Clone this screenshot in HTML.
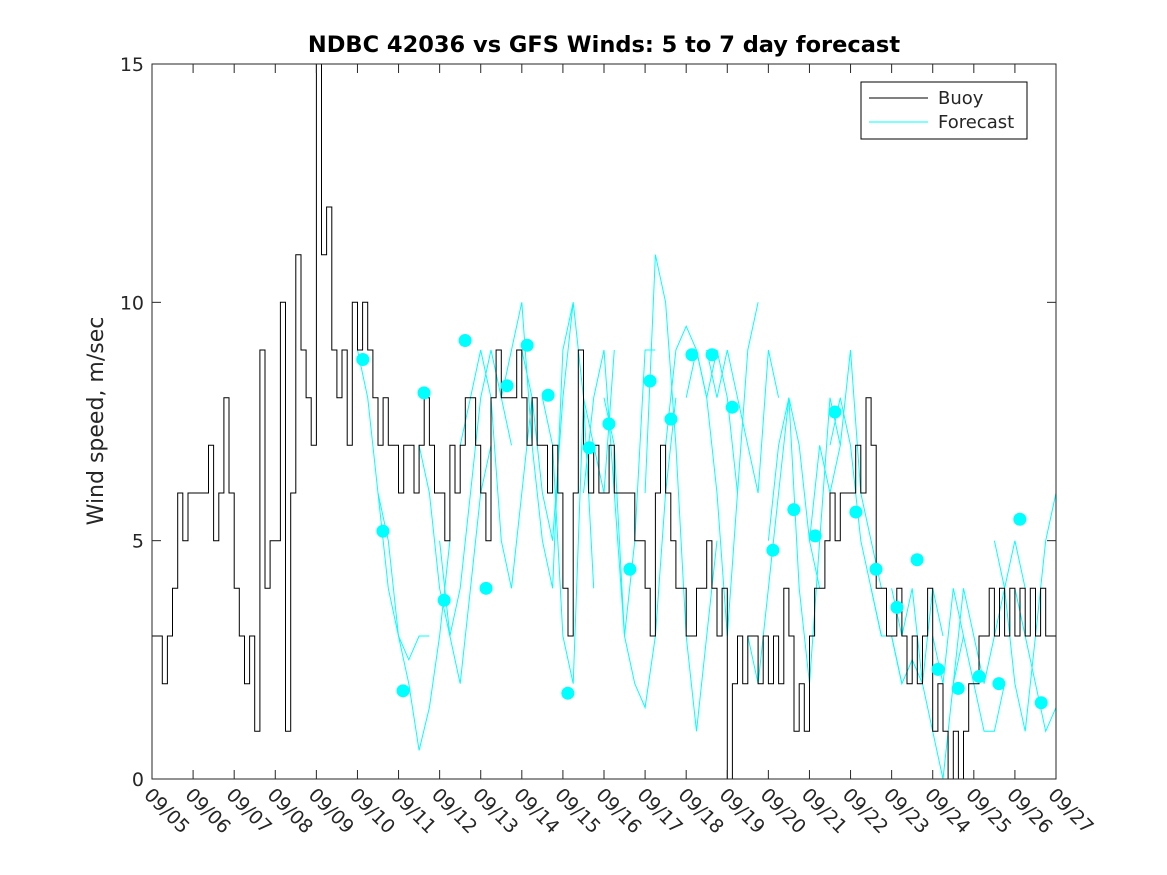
<!DOCTYPE html>
<html><head><meta charset="utf-8"><style>
body{margin:0;background:#fff;}
svg{display:block;font-family:"DejaVu Sans","Liberation Sans",sans-serif;}
</style></head><body>
<svg id="chart" width="1167" height="875" xmlns="http://www.w3.org/2000/svg">
<rect width="1167" height="875" fill="#fff"/>
<text x="604" y="52" text-anchor="middle" font-size="22.5" font-weight="bold">NDBC 42036 vs GFS Winds: 5 to 7 day forecast</text>
<text transform="translate(103,421) rotate(-90)" text-anchor="middle" font-size="22" fill="#262626">Wind speed, m/sec</text>
<defs><clipPath id="plotclip"><rect x="152" y="64" width="904" height="715"/></clipPath></defs>
<g id="series" clip-path="url(#plotclip)"></g>
<g id="axes"></g>
<g>
<rect x="861" y="82" width="166" height="57" fill="#fff" stroke="#000" stroke-width="1"/>
<line x1="869" y1="98" x2="928" y2="98" stroke="#000" stroke-width="1"/>
<text x="938" y="104" font-size="18" fill="#262626">Buoy</text>
<line x1="869" y1="122" x2="928" y2="122" stroke="#00ffff" stroke-width="1"/>
<text x="938" y="128" font-size="18" fill="#262626">Forecast</text>
</g>
</svg>
<script>
const xTickLabels=["09/05","09/06","09/07","09/08","09/09","09/10","09/11","09/12","09/13","09/14","09/15","09/16","09/17","09/18","09/19","09/20","09/21","09/22","09/23","09/24","09/25","09/26","09/27"];
const yTicks=[0,5,10,15];
const buoyStepHours=3;
const buoyValues=[
3,3,2,3,4,6,5,6, 6,6,6,7,5,6,8,6, 4,3,2,3,1,9,4,5, 5,10,1,6,11,9,8,7,
15,11,12,9,8,9,7,10, 9,10,9,8,7,8,7,7, 6,7,7,6,7,8,7,6, 6,5,7,6,7,8,8,7,
6,5,8,9,8,8,8,9, 8,7,8,7,7,6,7,6, 4,3,6,9,7,6,7,6, 6,7,6,6,6,6,5,5,
4,3,6,7,6,5,4,4, 3,3,4,4,5,4,3,4, 0,2,3,2,3,3,2,3, 2,3,2,4,3,1,2,1,
3,4,4,5,6,5,6,6, 6,7,6,8,7,4,4,3, 3,4,3,2,3,2,3,4, 1,2,1,0,1,0,1,2,
2,3,3,4,3,4,3,4, 3,4,3,4,3,4,3,3];
const forecastStarts=[5.0,5.5,6.5,7.0,7.5,8.5,9.0,9.5,10.5,11.0,12.0,12.5,13.0,13.5,14.5,15.0,16.0,16.5,17.5,18.0,19.0,19.5,20.5,21.0];
const forecastValues=[
[9,8,6,4,3,2.5,3,3],[6,5,3,2,0.6,1.5,3,5],[7,6,4,3,2,4,6,7],[5,3,4,6,8,9,8,7],
[7,8,9,8,5,4,6,8],[8,9,10,7,5,4,9,10],[9,8,6,5,8,10,8,4],[8,7,3,2,8,7,6,9],
[6,8,9,6,3,5,9,9],[8,7,3,2,1.5,3,6,8],[6,11,10,7,3,1,3,5],[7,9,9.5,9,8,9,8,6],
[8,9,8,6,3,6,9,10],[9,8,9,8,7,6,9,8],[3,2,4,6,8,7,5,4],[5,7,8,4,2,5,8,7],
[5,7,6,7,9,6,5,4],[7,8,7,5,4,3,3,2],[4,3,3,2,2.5,2,4,3],[4,3,4,2,1,0,2,3],
[3,2,4,3,2,1,1,2],[2,4,3,2,3,4,5,4],[5,4,2,1,3,5,6,5],[4,3,2,1,1.5,1,2.5,4.5]];
const dotDays=[5.13,5.62,6.11,6.62,7.11,7.62,8.13,8.64,9.13,9.64,10.12,10.64,11.12,11.63,12.12,12.63,13.14,13.63,14.12,15.11,15.62,16.14,16.62,17.13,17.62,18.13,18.62,19.13,19.62,20.13,20.61,21.12,21.64];
const dotValues=[8.8,5.2,1.85,8.1,3.75,9.2,4.0,8.25,9.1,8.05,1.8,6.95,7.45,4.4,8.35,7.55,8.9,8.9,7.8,4.8,5.65,5.1,7.7,5.6,4.4,3.6,4.6,2.3,1.9,2.15,2.0,5.45,1.6];

const NS="http://www.w3.org/2000/svg";
const X0=152,X1=1056,Y0=779,Y1=64;
const xs=d=>X0+d*(X1-X0)/22;
const ys=v=>Y0-v*(Y0-Y1)/15;
const series=document.getElementById('series');
const axes=document.getElementById('axes');
function mk(tag,attrs,parent){const e=document.createElementNS(NS,tag);for(const k in attrs)e.setAttribute(k,attrs[k]);parent.appendChild(e);return e;}

forecastValues.forEach((vals,i)=>{
  const step=0.25;
  const pts=vals.map((v,j)=>xs(forecastStarts[i]+j*step).toFixed(1)+","+ys(v).toFixed(1)).join(" ");
  const pl=mk('polyline',{points:pts,fill:'none',stroke:'#00ffff','stroke-width':1},series);
  
  
});
let d="";
buoyValues.forEach((v,i)=>{
  const xa=xs(i*buoyStepHours/24),xb=xs((i+1)*buoyStepHours/24);
  d+=(i===0?"M":"L")+xa.toFixed(1)+","+ys(v).toFixed(1)+"L"+xb.toFixed(1)+","+ys(v).toFixed(1);
});
const bp=mk('path',{d:d,fill:'none',stroke:'#000','stroke-width':1},series);


dotDays.forEach((dd,i)=>{
  const c=mk('circle',{cx:xs(dd),cy:ys(dotValues[i]),r:6.5,fill:'#00ffff'},series);
  
  
});
const fr=mk('rect',{x:X0,y:Y1,width:X1-X0,height:Y0-Y1,fill:'none',stroke:'#262626','stroke-width':1},axes);


yTicks.forEach(v=>{
  const y=ys(v);
  mk('line',{x1:X0,y1:y,x2:X0+9,y2:y,stroke:'#262626'},axes);
  mk('line',{x1:X1,y1:y,x2:X1-9,y2:y,stroke:'#262626'},axes);
  const t=mk('text',{x:X0-8,y:y+7,'text-anchor':'end','font-size':19,fill:'#262626'},axes);
  t.textContent=v;
  
  
});
xTickLabels.forEach((lab,i)=>{
  const x=xs(i);
  mk('line',{x1:x,y1:Y0,x2:x,y2:Y0-9,stroke:'#262626'},axes);
  mk('line',{x1:x,y1:Y1,x2:x,y2:Y1+9,stroke:'#262626'},axes);
  const t=mk('text',{transform:`translate(${x-9},${Y0+17}) rotate(45)`,'font-size':19,fill:'#262626'},axes);
  t.textContent=lab;
  
  
});
</script>
</body></html>
